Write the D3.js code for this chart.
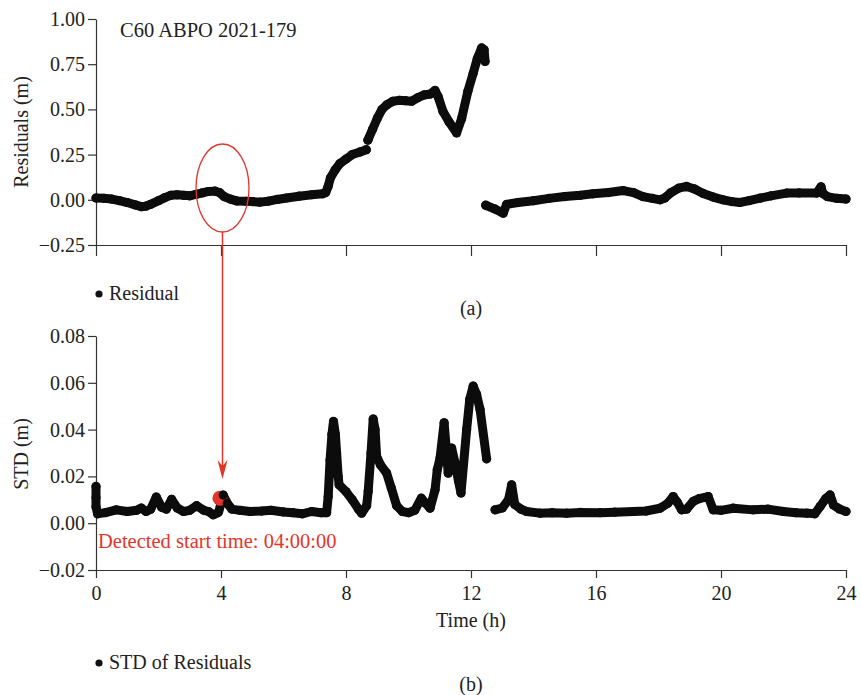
<!DOCTYPE html>
<html>
<head>
<meta charset="utf-8">
<script src="https://cdn.jsdelivr.net/npm/d3@7"></script>
<style>
  body { margin: 0; background: #fff; }
  text { font-family: "Liberation Serif", "DejaVu Serif", serif; fill: #222; }
  .axis path, .axis line { stroke: #333; stroke-width: 1.2; }
  .axis text { font-size: 20px; fill: #222; font-family: "Liberation Serif", serif; }
</style>
</head>
<body>
<script>
// panel (a): residuals, null = gap in the record
const residualHours = [0, 0.25, 0.5, 0.75, 1.0, 1.25, 1.45, 1.6, 1.75, 2.0, 2.2, 2.4, 2.6, 2.8, 3.0, 3.2, 3.4, 3.6, 3.8, 3.95,
  4.1, 4.3, 4.5, 4.8, 5.0, 5.25, 5.5, 5.8, 6.1, 6.5, 6.9, 7.25, 7.35, 7.43, 7.5, 7.65, 7.8, 8.0, 8.2, 8.45, 8.65,
  8.68, 8.7, 8.85, 9.0, 9.15, 9.3, 9.5, 9.7, 9.9, 10.1, 10.3, 10.5, 10.7, 10.85, 10.95, 11.1, 11.3, 11.54, 11.7,
  11.9, 12.07, 12.2, 12.34, 12.42, 12.45, 12.47, 12.47, 12.75, 13.03, 13.14, 13.5, 14.0, 14.5, 15.0, 15.5, 15.9,
  16.4, 16.87, 17.2, 17.5, 17.8, 18.05, 18.2, 18.4, 18.65, 18.9, 19.15, 19.43, 19.75, 20.07, 20.35, 20.6, 20.9,
  21.25, 21.6, 22.1, 22.5, 23.06, 23.2, 23.26, 23.4, 23.7, 24.0]
const residualMeters = [0.010, 0.008, 0.004, -0.005, -0.015, -0.028, -0.038, -0.035, -0.025, -0.005, 0.012, 0.025, 0.028, 0.025, 0.022, 0.030, 0.038, 0.046, 0.048, 0.040,
  0.018, 0.004, -0.006, -0.008, -0.010, -0.013, -0.008, 0.002, 0.010, 0.020, 0.028, 0.033, 0.040, 0.075, 0.12, 0.165, 0.20, 0.225, 0.250, 0.265, 0.277,
  null, 0.33, 0.39, 0.45, 0.50, 0.525, 0.545, 0.550, 0.548, 0.545, 0.565, 0.580, 0.585, 0.605, 0.570, 0.49, 0.43, 0.37, 0.45,
  0.60, 0.70, 0.78, 0.84, 0.83, 0.765, null, -0.030, -0.050, -0.074, -0.025, -0.015, -0.005, 0.008, 0.018, 0.025, 0.033,
  0.040, 0.051, 0.040, 0.018, 0.008, 0.000, 0.010, 0.040, 0.065, 0.074, 0.060, 0.035, 0.015, 0.000, -0.010, -0.015, -0.005,
  0.009, 0.022, 0.037, 0.038, 0.037, 0.072, 0.035, 0.018, 0.008, 0.004]

// panel (b): STD of residuals
const stdHours = [0, 0, 0, 0.05, 0.3, 0.65, 1.0, 1.3, 1.45, 1.6, 1.75, 1.93, 2.1, 2.25, 2.42, 2.6, 2.8, 3.0, 3.22, 3.45,
  3.6, 3.75, 3.92, 4.07, 4.2, 4.35, 4.6, 4.93, 5.3, 5.6, 6.0, 6.3, 6.6, 6.9, 7.2, 7.38, 7.43, 7.49, 7.55, 7.6,
  7.66, 7.7, 7.75, 7.78, 8.0, 8.2, 8.4, 8.5, 8.66, 8.71, 8.8, 8.87, 8.93, 8.98, 9.1, 9.3, 9.45, 9.62, 9.8, 10.0,
  10.2, 10.41, 10.55, 10.69, 10.85, 10.92, 11.01, 11.14, 11.2, 11.27, 11.38, 11.49, 11.6, 11.68, 11.86, 11.96, 12.07, 12.18, 12.29, 12.5,
  12.6, 12.77, 13.0, 13.2, 13.3, 13.4, 13.6, 13.78, 14.2, 14.6, 15.06, 15.5, 16.13, 16.6, 17.2, 17.6, 18.05, 18.3, 18.47, 18.6,
  18.74, 18.9, 19.11, 19.3, 19.59, 19.75, 20.0, 20.39, 21.03, 21.5, 22.0, 22.4, 22.75, 23.0, 23.17, 23.35, 23.49, 23.6, 23.8, 24.0]
const stdMeters = [0.0157, 0.011, 0.007, 0.004, 0.0045, 0.0057, 0.005, 0.0055, 0.0065, 0.005, 0.006, 0.0112, 0.0068, 0.006, 0.0102, 0.0065, 0.005, 0.0055, 0.0075, 0.0055,
  0.005, 0.0036, 0.0045, 0.012, 0.0085, 0.006, 0.0055, 0.005, 0.0052, 0.0055, 0.0048, 0.0045, 0.004, 0.005, 0.0045, 0.0045, 0.0114, 0.027, 0.038, 0.0435,
  0.038, 0.030, 0.020, 0.0164, 0.0135, 0.010, 0.006, 0.0043, 0.0075, 0.0136, 0.030, 0.0445, 0.040, 0.0286, 0.025, 0.0214, 0.015, 0.0075, 0.005, 0.0045,
  0.0055, 0.0107, 0.0085, 0.0064, 0.0143, 0.0228, 0.0279, 0.0429, 0.033, 0.0214, 0.0321, 0.0257, 0.018, 0.0129, 0.040, 0.053, 0.0586, 0.055, 0.0486, 0.0275,
  null, 0.0057, 0.0065, 0.010, 0.0164, 0.008, 0.006, 0.005, 0.0043, 0.0045, 0.0043, 0.0046, 0.0045, 0.0047, 0.005, 0.0052, 0.0064, 0.0085, 0.0114, 0.009,
  0.0057, 0.006, 0.0093, 0.0105, 0.0114, 0.0057, 0.0055, 0.0064, 0.0057, 0.006, 0.005, 0.0045, 0.0043, 0.004, 0.0071, 0.0105, 0.0121, 0.0078, 0.006, 0.005]

const hourTicks = [0, 4, 8, 12, 16, 20, 24]
const residualTicks = [-0.25, 0, 0.25, 0.5, 0.75, 1.0]
const stdTicks = [-0.02, 0, 0.02, 0.04, 0.06, 0.08]
const detectedHour = 4.0
const detectedStd = 0.0107

const width = 861, height = 695
const svg = d3.select("body").append('svg').attr('width', width).attr('height', height)

const xScale = d3.scaleLinear().domain([0, 24]).range([96, 846])
const yRes = d3.scaleLinear().domain([-0.25, 1.0]).range([245, 19])
const yStd = d3.scaleLinear().domain([-0.02, 0.08]).range([570, 336])

const residuals = residualHours.map((t, i) => ({t, v: residualMeters[i]}))
const stds = stdHours.map((t, i) => ({t, v: stdMeters[i]}))
const ink = '#0c0c0c'
const red = '#e5342a'

function drawLine(data, yScale) {
    const line = d3.line()
        .defined(d => d.v !== null)
        .x(d => xScale(d.t))
        .y(d => yScale(d.v))
    svg.append('path').datum(data).attr('d', line)
        .attr('fill', 'none').attr('stroke', ink).attr('stroke-width', 9)
        .attr('stroke-linejoin', 'round').attr('stroke-linecap', 'round')
}
function drawDots(data, yScale) {
    svg.append('g').selectAll('circle').data(data.filter(d => d.v !== null)).join('circle')
        .attr('cx', d => xScale(d.t)).attr('cy', d => yScale(d.v)).attr('r', 4.6)
        .attr('fill', ink)
}

// ---- panel (a)
svg.append('g').attr('class', 'axis')
    .attr('transform', `translate(96,0)`)
    .call(d3.axisLeft(yRes).tickValues(residualTicks).tickFormat(d3.format('.2f')).tickSize(8).tickSizeOuter(0))
svg.append('g').attr('class', 'axis')
    .attr('transform', `translate(0,245)`)
    .call(d3.axisBottom(xScale).tickValues(hourTicks).tickFormat('').tickSize(11).tickSizeOuter(0))

drawLine(residuals, yRes)
drawDots(residuals, yRes)

svg.append('text').attr('x', 120).attr('y', 37).attr('font-size', 20.5).text('C60 ABPO 2021-179')
svg.append('text').attr('transform', 'translate(28,132) rotate(-90)').attr('text-anchor', 'middle')
    .attr('font-size', 20).text('Residuals (m)')
svg.append('circle').attr('cx', 99).attr('cy', 294).attr('r', 3.6).attr('fill', '#111')
svg.append('text').attr('x', 109).attr('y', 300).attr('font-size', 20).text('Residual')
svg.append('text').attr('x', 471).attr('y', 315).attr('text-anchor', 'middle').attr('font-size', 20).text('(a)')

// detection marker
const xd = xScale(detectedHour) + 1.5
svg.append('ellipse').attr('cx', xd).attr('cy', 188).attr('rx', 26.5).attr('ry', 44)
    .attr('fill', 'none').attr('stroke', red).attr('stroke-width', 1.3)
svg.append('line').attr('x1', xd).attr('x2', xd)
    .attr('y1', 232).attr('y2', 466).attr('stroke', red).attr('stroke-width', 1.5)
svg.append('path')
    .attr('d', d3.line()([[xd, 479], [xd - 5, 460], [xd, 466], [xd + 5, 460]]) + 'Z')
    .attr('fill', red)

// ---- panel (b)
svg.append('g').attr('class', 'axis')
    .attr('transform', `translate(96,0)`)
    .call(d3.axisLeft(yStd).tickValues(stdTicks).tickFormat(d3.format('.2f')).tickSize(8).tickSizeOuter(0))
svg.append('g').attr('class', 'axis')
    .attr('transform', `translate(0,570)`)
    .call(d3.axisBottom(xScale).tickValues(hourTicks).tickFormat(d3.format('d')).tickSize(8).tickPadding(8).tickSizeOuter(0))

drawLine(stds, yStd)
svg.append('circle').attr('cx', xScale(detectedHour) - 1).attr('cy', yStd(detectedStd)).attr('r', 7.5).attr('fill', red)
drawDots(stds.filter(d => d.t > 4 || d.t < 3.9), yStd)

svg.append('text').attr('x', 98).attr('y', 548).attr('font-size', 20.5).style('fill', red)
    .text('Detected start time: 04:00:00')
svg.append('text').attr('transform', 'translate(28,454) rotate(-90)').attr('text-anchor', 'middle')
    .attr('font-size', 20).text('STD (m)')
svg.append('text').attr('x', 471).attr('y', 627).attr('text-anchor', 'middle').attr('font-size', 20).text('Time (h)')
svg.append('circle').attr('cx', 99).attr('cy', 663).attr('r', 3.6).attr('fill', '#111')
svg.append('text').attr('x', 109).attr('y', 669).attr('font-size', 20).text('STD of Residuals')
svg.append('text').attr('x', 471).attr('y', 691).attr('text-anchor', 'middle').attr('font-size', 20).text('(b)')
</script>
</body>
</html>
